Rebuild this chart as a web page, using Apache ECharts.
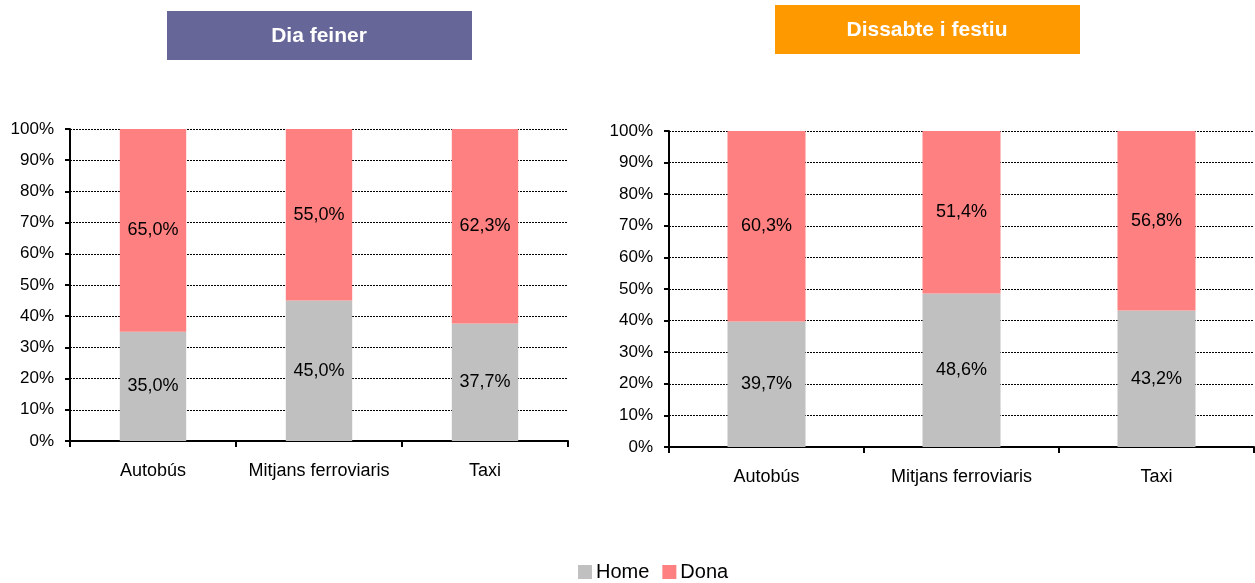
<!DOCTYPE html>
<html>
<head>
<meta charset="utf-8">
<script src="https://cdn.jsdelivr.net/npm/echarts@6/dist/echarts.min.js"></script>
<style>
  html, body { margin: 0; padding: 0; background: #fff; }
  #chart { width: 1255px; height: 583px; }
</style>
</head>
<body>
<div id="chart"></div>
<script>
// categories and values
const categories = ["Autobús", "Mitjans ferroviaris", "Taxi"];
const homeFeiner = [35.0, 45.0, 37.7];
const donaFeiner = [65.0, 55.0, 62.3];
const homeFestiu = [39.7, 48.6, 43.2];
const donaFestiu = [60.3, 51.4, 56.8];
const panelTitles = ["Dia feiner", "Dissabte i festiu"];

const FONT = "Liberation Sans, Arial, sans-serif";
const GREY = "#C0C0C0";
const PINK = "#FF8080";

const chart = echarts.init(document.getElementById("chart"));

const fmt = (p) => p.value.toFixed(1).replace(".", ",") + "%";

function xAxisFor(gridIndex) {
    return {
        type: "category",
        gridIndex,
        data: categories,
        axisLine: { lineStyle: { color: "#000", width: 2 } },
        axisTick: { show: true, interval: 0, length: 6, lineStyle: { color: "#000", width: 2 } },
        axisLabel: { color: "#000", fontFamily: FONT, fontSize: 18, margin: 21, interval: 0, hideOverlap: false },
    };
}

function yAxisFor(gridIndex) {
    return {
        type: "value",
        gridIndex,
        min: 0,
        max: 100,
        interval: 10,
        axisLine: { show: true, lineStyle: { color: "#000", width: 2 } },
        axisTick: { show: true, length: 5, lineStyle: { color: "#000", width: 2 } },
        axisLabel: { color: "#000", fontFamily: FONT, fontSize: 17, margin: 16, formatter: "{value}%" },
        splitLine: { show: true, lineStyle: { color: "#000", width: 1, type: [2, 1] } },
    };
}

function barSeries(name, data, idx, color) {
    return {
        name,
        type: "bar",
        stack: "s" + idx,
        xAxisIndex: idx,
        yAxisIndex: idx,
        data,
        barWidth: "40%",
        itemStyle: { color },
        label: {
            show: true,
            position: "inside",
            color: "#000",
            fontFamily: FONT,
            fontSize: 18,
            formatter: fmt,
        },
    };
}

function titleBox(x, y, text, color) {
    return {
        type: "group",
        left: x,
        top: y,
        children: [
            { type: "rect", shape: { x: 0, y: 0, width: 305, height: 49 }, style: { fill: color } },
            {
                type: "text",
                x: 152,
                y: 25,
                style: {
                    text,
                    fill: "#fff",
                    font: "bold 21px " + FONT,
                    align: "center",
                    verticalAlign: "middle",
                },
            },
        ],
    };
}

chart.setOption({
    animation: false,
    graphic: [
        titleBox(167, 11, panelTitles[0], "#666699"),
        titleBox(775, 5, panelTitles[1], "#FF9900"),
    ],
    legend: {
        data: ["Home", "Dona"],
        left: 578,
        top: 562,
        padding: 0,
        itemWidth: 14,
        itemHeight: 14,
        itemGap: 13,
        icon: "rect",
        textStyle: { color: "#000", fontFamily: FONT, fontSize: 20, padding: [0, 0, 0, -1] },
    },
    grid: [
        { left: 70, right: 687, top: 129, bottom: 142 },
        { left: 669, right: 1, top: 131, bottom: 136 },
    ],
    xAxis: [xAxisFor(0), xAxisFor(1)],
    yAxis: [yAxisFor(0), yAxisFor(1)],
    series: [
        barSeries("Home", homeFeiner, 0, GREY),
        barSeries("Dona", donaFeiner, 0, PINK),
        barSeries("Home", homeFestiu, 1, GREY),
        barSeries("Dona", donaFestiu, 1, PINK),
    ],
});
</script>
</body>
</html>
